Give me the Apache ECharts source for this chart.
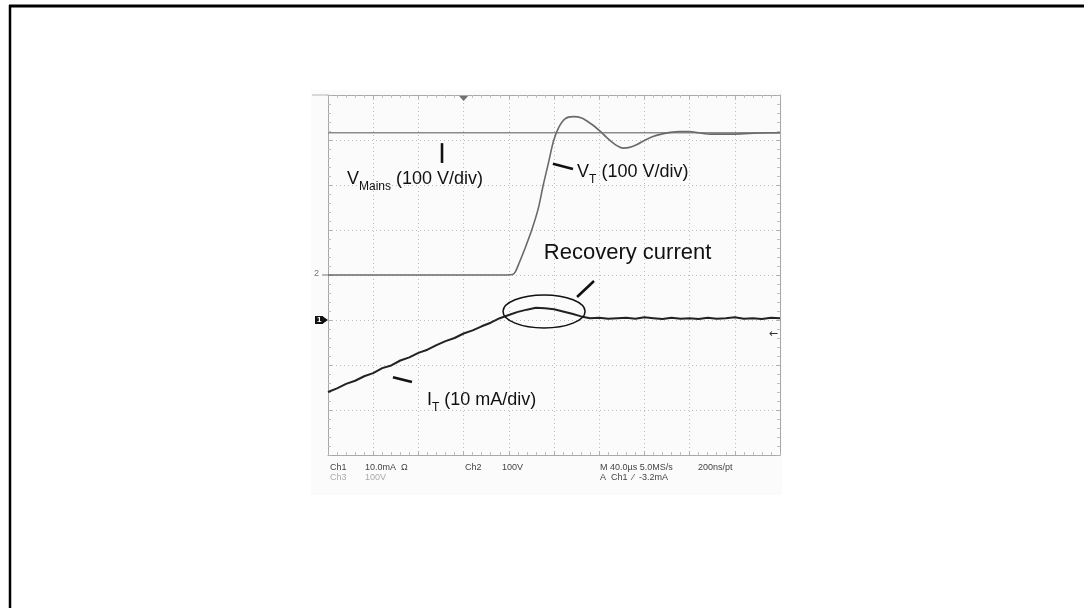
<!DOCTYPE html>
<html><head><meta charset="utf-8">
<script src="https://cdn.jsdelivr.net/npm/echarts@6/dist/echarts.min.js"></script>
<style>html,body{margin:0;padding:0;background:#fff}#c{width:1084px;height:608px}</style>
</head><body><div id="c"></div>
<script>
// Time axis (µs), 40 µs/div, 10 divisions
const timeTicks = [0, 40, 80, 120, 160, 200, 240, 280, 320, 360, 400];

// Ch2: V_Mains (V)
const vMainsTime = [0, 400];
const vMainsVolt = [316, 316];

// Ch2: V_T (V)
const vtTime = [0, 100, 158, 163.5, 166, 168.4, 171, 174.3, 180.3, 186.1, 190.5, 195, 199.4, 203.8, 209.7, 217.1, 224.5, 230.4, 236, 241, 246, 251, 256, 261, 266, 273.5, 280, 287, 295, 303, 311.5, 320, 328, 340, 358, 376, 400];
const vtVolt = [0, 0, 0, 1, 8, 22, 38, 59, 100, 148, 200, 248, 296, 326, 347, 352, 349, 340, 330, 319, 307, 296, 287, 282, 283, 290, 299, 307, 313, 317, 319, 319, 316, 313, 313, 315, 316];

// Ch1: I_T (mA)
const itTime = [0, 8, 16, 24, 32, 40, 48, 56, 64, 72, 80, 88, 96, 104, 112, 120, 128, 136, 144, 152, 160, 168, 176, 184, 192, 200, 208, 216, 224, 232, 240, 248, 256, 264, 272, 280, 288, 296, 304, 312, 320, 328, 336, 344, 352, 360, 368, 376, 384, 392, 400];
const itCurrent = [-16.0, -15.2, -14.2, -13.5, -12.5, -11.8, -10.7, -10.1, -9.0, -8.3, -7.3, -6.6, -5.6, -4.7, -4.0, -3.0, -2.3, -1.4, -0.6, 0.4, 1.1, 1.8, 2.3, 2.7, 2.6, 2.4, 1.9, 1.4, 0.8, 0.4, 0.5, 0.3, 0.4, 0.5, 0.3, 0.6, 0.4, 0.2, 0.5, 0.3, 0.4, 0.2, 0.5, 0.3, 0.4, 0.6, 0.3, 0.4, 0.2, 0.5, 0.4];

// Trigger settings
const triggerTime = 120;
const triggerLevel = -3.2;

const pairs = (xs, ys) => xs.map((x, i) => [x, ys[i]]);
const FONT = 'Liberation Sans, Arial, sans-serif';

const chart = echarts.init(document.getElementById('c'), null, {renderer: 'canvas'});

const frameAxisCommon = {
  type: 'value',
  axisLabel: {show: false},
  axisLine: {show: true, onZero: false, lineStyle: {color: '#a8a8a8', width: 1}},
  axisTick: {show: true, inside: true, length: 4, lineStyle: {color: '#b0b0b0'}},
  minorTick: {show: true, splitNumber: 5, length: 3, lineStyle: {color: '#c0c0c0'}},
};

chart.setOption({
  animation: false,
  backgroundColor: '#ffffff',
  grid: {left: 328, top: 95, width: 452, height: 360, containLabel: false},
  xAxis: [
    Object.assign({}, frameAxisCommon, {min: timeTicks[0], max: timeTicks[timeTicks.length - 1], interval: 40, position: 'bottom',
      splitLine: {show: true, lineStyle: {color: '#bdbdbd', type: [1, 3], width: 1}}}),
    Object.assign({}, frameAxisCommon, {min: 0, max: 400, interval: 40, position: 'top', splitLine: {show: false}})
  ],
  yAxis: [
    Object.assign({}, frameAxisCommon, {min: -400, max: 400, interval: 100, position: 'left',
      splitLine: {show: true, lineStyle: {color: '#bdbdbd', type: [1, 3], width: 1}}}),
    Object.assign({}, frameAxisCommon, {min: -30, max: 50, interval: 10, position: 'right', splitLine: {show: false}})
  ],
  series: [
    {name: 'V_Mains', type: 'line', xAxisIndex: 0, yAxisIndex: 0, data: pairs(vMainsTime, vMainsVolt),
      showSymbol: false, lineStyle: {color: '#8c8c8c', width: 1.6}, z: 3},
    {name: 'V_T', type: 'line', xAxisIndex: 0, yAxisIndex: 0, data: pairs(vtTime, vtVolt), smooth: 0.3,
      showSymbol: false, lineStyle: {color: '#6a6a6a', width: 1.6}, z: 4},
    {name: 'I_T', type: 'line', xAxisIndex: 0, yAxisIndex: 1, data: pairs(itTime, itCurrent),
      showSymbol: false, lineStyle: {color: '#222222', width: 2}, z: 5}
  ]
});

const PV = (t, v) => chart.convertToPixel({seriesIndex: 1}, [t, v]);
const PI = (t, i) => chart.convertToPixel({seriesIndex: 2}, [t, i]);

function label(pt, richText, rich, extra) {
  return Object.assign({type: 'text', x: pt[0], y: pt[1], z: 20,
    style: {text: richText, rich: rich, fill: '#111', font: '18px ' + FONT,
      align: 'left', verticalAlign: 'middle', textAlign: 'left', textVerticalAlign: 'middle'}}, extra || {});
}
function seg(a, b, w) {
  return {type: 'line', z: 20, shape: {x1: a[0], y1: a[1], x2: b[0], y2: b[1]}, style: {stroke: '#111', lineWidth: w || 2.6}};
}
const richMain = {
  m: {fontSize: 18, fontFamily: FONT, fill: '#111', lineHeight: 28, verticalAlign: 'middle'},
  s: {fontSize: 12, fontFamily: FONT, fill: '#111', lineHeight: 28, verticalAlign: 'bottom'}
};

const ellC = PI(191.2, 1.9);
const ellR = PI(191.2 + 36.3, 1.9 - 3.67);
const trigPt = PV(triggerTime, 400);
const g2 = PV(0, 0);
const g1 = PI(0, 0);
const trigArrow = PI(400, triggerLevel);
const plotTop = PV(0, 400);

const graphics = [
  // page frame
  {type: 'line', shape: {x1: 9, y1: 6, x2: 1084, y2: 6}, style: {stroke: '#000', lineWidth: 3}},
  {type: 'line', shape: {x1: 10, y1: 5, x2: 10, y2: 608}, style: {stroke: '#000', lineWidth: 2.5}},
  // scope picture backdrop
  {type: 'rect', z: -10, shape: {x: 311, y: 90, width: 471, height: 405}, style: {fill: '#fbfbfb'}},
  {type: 'line', shape: {x1: 312, y1: plotTop[1], x2: plotTop[0], y2: plotTop[1]}, style: {stroke: '#b5b5b5', lineWidth: 1}},
  // trigger position marker
  {type: 'polygon', z: 15, shape: {points: [[trigPt[0] - 4.5, trigPt[1] + 1], [trigPt[0] + 4.5, trigPt[1] + 1], [trigPt[0], trigPt[1] + 6]]}, style: {fill: '#707070'}},
  // ground markers
  {type: 'text', z: 15, x: g2[0] - 14, y: g2[1] - 1, style: {text: '2', fill: '#777', font: '9px ' + FONT, verticalAlign: 'middle', textVerticalAlign: 'middle'}},
  {type: 'line', z: 15, shape: {x1: g2[0] - 6, y1: g2[1], x2: g2[0], y2: g2[1]}, style: {stroke: '#777', lineWidth: 1}},
  {type: 'rect', z: 15, shape: {x: g1[0] - 13, y: g1[1] - 4, width: 8, height: 8}, style: {fill: '#111'}},
  {type: 'polygon', z: 15, shape: {points: [[g1[0] - 5, g1[1] - 3.5], [g1[0], g1[1]], [g1[0] - 5, g1[1] + 3.5]]}, style: {fill: '#111'}},
  {type: 'text', z: 16, x: g1[0] - 11, y: g1[1], style: {text: '1', fill: '#fff', font: 'bold 8px ' + FONT, verticalAlign: 'middle', textVerticalAlign: 'middle'}},
  // trigger level arrow
  {type: 'text', z: 15, x: trigArrow[0] - 2, y: trigArrow[1], style: {text: '←', fill: '#333', font: '11px DejaVu Sans', align: 'right', textAlign: 'right', verticalAlign: 'middle', textVerticalAlign: 'middle'}},
  // annotations
  label(PV(16.8, 214), '{m|V}{s|Mains}{m| (100 V/div)}', richMain),
  seg(PV(100.9, 293), PV(100.9, 249), 2.6),
  label(PV(220.4, 229), '{m|V}{s|T}{m| (100 V/div)}', richMain),
  seg(PV(199, 247), PV(216.8, 235.6), 2.6),
  {type: 'text', z: 20, x: PV(191, 49)[0], y: PV(191, 49)[1], style: {text: 'Recovery current', fill: '#111', font: '22px ' + FONT, verticalAlign: 'middle', textVerticalAlign: 'middle'}},
  seg(PV(220.4, -49), PV(235.4, -13.3), 2.6),
  {type: 'ellipse', z: 20, shape: {cx: ellC[0], cy: ellC[1], rx: ellR[0] - ellC[0], ry: ellR[1] - ellC[1]}, style: {fill: 'none', stroke: '#111', lineWidth: 1.5}},
  label(PV(87.6, -278), '{m|I}{s|T}{m| (10 mA/div)}', richMain),
  seg(PV(57.5, -227), PV(74.3, -238), 2.6),
  // readout
  {type: 'text', x: 330, y: 468, style: {text: 'Ch1', fill: '#444', font: '9px ' + FONT, verticalAlign: 'middle', textVerticalAlign: 'middle'}},
  {type: 'text', x: 365, y: 468, style: {text: '10.0mA  Ω', fill: '#444', font: '9px ' + FONT, verticalAlign: 'middle', textVerticalAlign: 'middle'}},
  {type: 'text', x: 465, y: 468, style: {text: 'Ch2', fill: '#444', font: '9px ' + FONT, verticalAlign: 'middle', textVerticalAlign: 'middle'}},
  {type: 'text', x: 502, y: 468, style: {text: '100V', fill: '#444', font: '9px ' + FONT, verticalAlign: 'middle', textVerticalAlign: 'middle'}},
  {type: 'text', x: 600, y: 468, style: {text: 'M 40.0µs 5.0MS/s', fill: '#444', font: '9px ' + FONT, verticalAlign: 'middle', textVerticalAlign: 'middle'}},
  {type: 'text', x: 698, y: 468, style: {text: '200ns/pt', fill: '#444', font: '9px ' + FONT, verticalAlign: 'middle', textVerticalAlign: 'middle'}},
  {type: 'text', x: 330, y: 478, style: {text: 'Ch3', fill: '#aaa', font: '9px ' + FONT, verticalAlign: 'middle', textVerticalAlign: 'middle'}},
  {type: 'text', x: 365, y: 478, style: {text: '100V', fill: '#aaa', font: '9px ' + FONT, verticalAlign: 'middle', textVerticalAlign: 'middle'}},
  {type: 'text', x: 600, y: 478, style: {text: 'A  Ch1  ⁄  -3.2mA', fill: '#444', font: '9px ' + FONT, verticalAlign: 'middle', textVerticalAlign: 'middle'}}
];

chart.setOption({graphic: {elements: graphics}});
</script>
</body></html>
